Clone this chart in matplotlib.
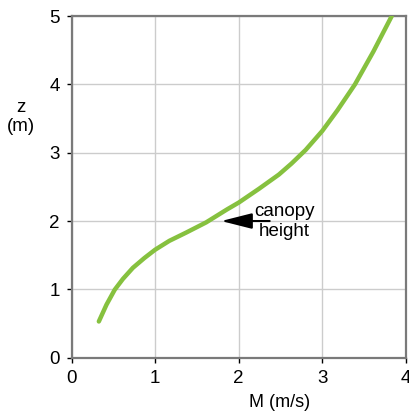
import matplotlib
matplotlib.use("Agg")
import matplotlib.pyplot as plt

plt.rcParams['font.family'] = ['Liberation Sans', 'DejaVu Sans']

M = [0.327, 0.418, 0.517, 0.615, 0.734, 0.873, 1.0, 1.17, 1.37, 1.61, 1.86, 2.0,
     2.24, 2.48, 2.63, 2.80, 3.0, 3.18, 3.39, 3.61, 3.83]
z = [0.53, 0.775, 0.995, 1.153, 1.315, 1.46, 1.58, 1.71, 1.83, 1.98, 2.17, 2.27,
     2.47, 2.68, 2.84, 3.04, 3.32, 3.62, 4.0, 4.48, 5.0]
xticks = [0, 1, 2, 3, 4]
yticks = [0, 1, 2, 3, 4, 5]

fig = plt.figure(figsize=(4.10, 4.12), dpi=100)
ax = fig.add_axes([0.1744, 0.1318, 0.8158, 0.8293])
ax.plot(M, z, color='#86c13f', lw=3.2, solid_capstyle='round', solid_joinstyle='round', zorder=3)
ax.set_xlim(0, 4)
ax.set_ylim(0, 5)
ax.set_xticks(xticks)
ax.set_yticks(yticks)
ax.grid(True, color='#cccccc', lw=1)
for s in ax.spines.values():
    s.set_color('#7a7a7a')
    s.set_linewidth(1.6)
ax.tick_params(direction='out', length=3.6, width=1, colors='black', labelsize=13.5, pad=5)
ax.set_xlabel('M (m/s)', fontsize=13, labelpad=6)
ax.xaxis.set_label_coords(0.623, -0.105)
ax.set_ylabel('z\n(m)', fontsize=13.5, rotation=0, va='center', ha='center')
ax.yaxis.set_label_coords(-0.151, 0.705)

ax.annotate('', xy=(1.79, 2.0), xytext=(2.37, 2.0),
            arrowprops=dict(arrowstyle='-|>,head_length=0.95,head_width=0.24',
                            mutation_scale=20, color='black', lw=1.5,
                            shrinkA=0, shrinkB=0))
ax.text(2.55, 1.99, 'canopy\nheight', ha='center', va='center', fontsize=13.5,
        linespacing=1.2, zorder=4)

fig.savefig('out.png', dpi=100)
